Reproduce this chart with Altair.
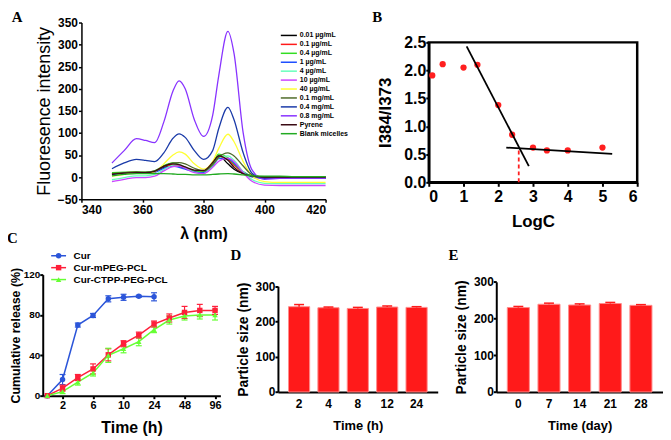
import altair as alt
import pandas as pd

FONT = "Liberation Sans"
SERIF = "Liberation Serif"
W, H = 660, 431

# ---------------- Panel A: fluorescence spectra ----------------
wavelength = [350, 354, 358, 361, 364, 367, 370, 372, 374, 377, 380, 383, 385, 388, 390, 393, 396, 400, 405, 410, 420]
conc_labels = ["0.01 µg/mL", "0.1 µg/mL", "0.4 µg/mL", "1 µg/mL", "4 µg/mL", "10 µg/mL",
               "40 µg/mL", "0.1 mg/mL", "0.4 mg/mL", "0.8 mg/mL", "Pyrene", "Blank micelles"]
conc_colors = ["#000000", "#ff1a1a", "#33dd22", "#1f4fff", "#66ffbb", "#cc44ff",
               "#ffff33", "#4f6b2a", "#1a3aa8", "#8833ff", "#3a0a14", "#22aa22"]
fl_001 = [7, 9, 10, 9, 12, 22, 28, 25, 20, 14, 14, 32, 48, 30, 18, 8, 3, 0, 0, 0, 0]
fl_01 = [8, 10, 11, 10, 13, 24, 28, 26, 21, 14, 12, 28, 44, 40, 27, 10, 2, 0, 0, 0, 0]
fl_04 = [10, 11, 12, 11, 14, 26, 32, 28, 22, 14, 12, 32, 52, 44, 30, 12, 3, 1, 1, 1, 1]
fl_1 = [5, 9, 10, 9, 11, 20, 25, 22, 18, 12, 10, 24, 42, 42, 32, 12, 0, -3, -3, -3, -3]
fl_4 = [-6, -1, 3, 3, 6, 17, 27, 28, 22, 11, 8, 26, 44, 48, 38, 12, -6, -14, -15, -15, -15]
fl_10 = [-10, -5, -1, -1, 2, 14, 24, 25, 20, 10, 8, 22, 36, 43, 35, 10, -10, -18, -19, -19, -19]
fl_40 = [2, 6, 10, 9, 12, 30, 50, 57, 52, 30, 18, 35, 65, 97, 80, 35, 2, -10, -12, -12, -12]
fl_01mg = [8, 10, 12, 11, 14, 24, 32, 33, 30, 20, 14, 28, 45, 55, 48, 25, 5, 0, 0, 0, 0]
fl_04mg = [19, 32, 40, 38, 35, 55, 88, 98, 90, 60, 40, 60, 110, 158, 130, 55, 8, -3, -3, -3, -3]
fl_08mg = [32, 60, 87, 83, 78, 125, 195, 218, 200, 130, 92, 140, 230, 330, 280, 100, 15, -5, -3, -3, -3]
fl_pyrene = [6, 9, 10, 10, 13, 25, 30, 28, 23, 16, 15, 33, 48, 38, 22, 8, 2, 0, 0, 0, 0]
fl_blank = [3, 6, 8, 8, 8, 8, 7, 6, 6, 5, 5, 6, 7, 8, 7, 5, 3, 2, 2, 1, 1]
fl_all = [fl_001, fl_01, fl_04, fl_1, fl_4, fl_10, fl_40, fl_01mg, fl_04mg, fl_08mg, fl_pyrene, fl_blank]

# ---------------- Panel B: I384/I373 vs LogC ----------------
logc = [0.1, 0.4, 1.0, 1.4, 2.0, 2.4, 3.0, 3.4, 4.0, 5.0]
ratio = [1.91, 2.11, 2.05, 2.10, 1.38, 0.85, 0.62, 0.57, 0.57, 0.62]
fit_seg = ["steep", "steep", "flat", "flat"]
fit_x = [1.09, 2.88, 2.23, 5.28]
fit_y = [2.43, 0.29, 0.62, 0.51]
cmc_x = [2.59, 2.59]
cmc_y = [0.0, 0.6]

# ---------------- Panel C: cumulative release ----------------
time_labels = ["0", "2", "4", "6", "8", "10", "12", "24", "36", "48", "72", "96"]
rel_series = ["Cur", "Cur-mPEG-PCL", "Cur-CTPP-PEG-PCL"]
rel_colors = ["#2b55d9", "#ff1f3a", "#66ff33"]
rel_shapes = ["circle", "square", "triangle-up"]
cur = [0, 16, 70, 79.5, 96, 97.5, 98.5, 98]
cur_err = [0, 5, 2, 2, 3, 3, 1, 4]
mpeg = [0, 7.5, 18, 26.5, 40.5, 51.5, 60, 71, 77, 82.5, 84.5, 84.5]
mpeg_err = [0, 3, 3, 5, 6, 3, 3, 3, 4, 6, 6, 4]
ctpp = [0, 4, 13.5, 22.5, 40, 46.5, 53.5, 65.5, 75, 79, 80, 80]
ctpp_err = [0, 2, 3, 3, 7, 4, 4, 3, 4, 4, 4, 5]

# ---------------- Panels D, E: particle size ----------------
d_times = ["2", "4", "8", "12", "24"]
d_size = [242, 239, 237, 241, 240]
d_err = [6, 2, 3, 3, 2]
e_days = ["0", "7", "14", "21", "28"]
e_size = [230, 239, 237, 241, 236]
e_err = [3, 3, 3, 3, 2]


def ax(orient, offset, **kw):
    base = dict(orient=orient, offset=offset, grid=False, domainColor="black", tickColor="black",
                labelColor="black", titleColor="black", labelFont=FONT, titleFont=FONT,
                labelFontWeight="bold", titleFontWeight="bold")
    base.update(kw)
    return alt.Axis(**base)


def sc(domain, rng, **kw):
    return alt.Scale(domain=domain, range=rng, nice=False, zero=False, **kw)


def letter(text, x, y, xs, ys, xtype="Q", dx=0):
    df = pd.DataFrame({"x": [x], "y": [y], "t": [text]})
    return alt.Chart(df).mark_text(font=SERIF, fontWeight="bold", fontSize=15, align="left",
                                   baseline="alphabetic", color="black", dx=dx).encode(
        x=alt.X(f"x:{xtype}", scale=xs, axis=None),
        y=alt.Y("y:Q", scale=ys, axis=None),
        text="t:N")


layers = []

# ---- A
xA = sc([340, 420], [74, 320])
yA = sc([-50, 350], [191, 13])
rowsA = []
for name, vals in zip(conc_labels, fl_all):
    for w, v in zip(wavelength, vals):
        rowsA.append({"wl": w, "val": v, "series": name})
dfA = pd.DataFrame(rowsA)
layers.append(alt.Chart(dfA).mark_line(strokeWidth=1.3, interpolate="monotone").encode(
    x=alt.X("wl:Q", scale=xA, axis=ax("bottom", 191 - H, values=[340, 360, 380, 400, 420], title="λ (nm)",
                                      labelFontSize=12, titleFontSize=16, tickSize=3, labelPadding=2,
                                      titlePadding=11, domainWidth=1.5, tickWidth=1.5)),
    y=alt.Y("val:Q", scale=yA, axis=ax("left", -74, values=list(range(-50, 351, 50)),
                                       title="Fluoresence intensity", titleFontWeight="normal",
                                       titleFontSize=18, labelFontSize=12, tickSize=3, labelPadding=1,
                                       titlePadding=4, domainWidth=1.5, tickWidth=1.5)),
    color=alt.Color("series:N", sort=conc_labels, scale=alt.Scale(domain=conc_labels, range=conc_colors),
                    legend=alt.Legend(title=None, orient="none", legendX=279, legendY=22,
                                      symbolType="M-2.7,0H2.7", symbolSize=36, symbolStrokeWidth=1.5,
                                      labelFont=FONT, labelFontWeight="bold", labelFontSize=7,
                                      labelColor="black", labelOffset=7, rowPadding=2))
))
layers.append(letter("A", 317.2, 352.2, xA, yA))

# ---- B
xB = sc([0, 6], [424, 634])
yB = sc([0, 2.5], [174, 33])
frame = pd.DataFrame({"x0": [0], "x1": [6], "y0": [0], "y1": [2.5]})
layers.append(alt.Chart(frame).mark_rect(fillOpacity=0, stroke="black", strokeWidth=2.5).encode(
    x=alt.X("x0:Q", scale=xB, axis=None), x2="x1", y=alt.Y("y0:Q", scale=yB, axis=None), y2="y1"))
dfB = pd.DataFrame({"logc": logc, "ratio": ratio})
layers.append(alt.Chart(dfB).mark_circle(size=40, color="#ff1f1f", opacity=1).encode(
    x=alt.X("logc:Q", scale=xB, axis=ax("bottom", 174 - H, values=[0, 1, 2, 3, 4, 5, 6], title="LogC",
                                        labelFontSize=16, titleFontSize=17, tickSize=4, tickWidth=2,
                                        domainWidth=2.5, labelPadding=2, titlePadding=10)),
    y=alt.Y("ratio:Q", scale=yB, axis=ax("left", -424, values=[0, 0.5, 1.0, 1.5, 2.0, 2.5], format=".1f",
                                         title="I384/I373", labelFontSize=16, titleFontSize=17, tickSize=3,
                                         tickWidth=2, domainWidth=2.5, labelPadding=0, titlePadding=9))))
dfFit = pd.DataFrame({"seg": fit_seg, "x": fit_x, "y": fit_y})
layers.append(alt.Chart(dfFit).mark_line(color="black", strokeWidth=1.8).encode(
    x=alt.X("x:Q", scale=xB, axis=None), y=alt.Y("y:Q", scale=yB, axis=None), detail="seg:N"))
dfCmc = pd.DataFrame({"x": cmc_x, "y": cmc_y})
layers.append(alt.Chart(dfCmc).mark_line(color="#ff2020", strokeWidth=1.8, strokeDash=[4, 3]).encode(
    x=alt.X("x:Q", scale=xB, axis=None), y=alt.Y("y:Q", scale=yB, axis=None)))
layers.append(letter("B", -1.63, 2.872, xB, yB))

# ---- C
xC = sc([-0.3, 11.35], [35, 214])
yC = sc([0, 120], [389, 267])
rowsC = []
for name, vals, errs in zip(rel_series, [cur, mpeg, ctpp], [cur_err, mpeg_err, ctpp_err]):
    for i, (v, e) in enumerate(zip(vals, errs)):
        rowsC.append({"idx": i, "val": v, "lo": v - e, "hi": v + e, "err": e, "series": name})
dfC = pd.DataFrame(rowsC)
dfCe = dfC[dfC["err"] > 0]
colC = alt.Scale(domain=rel_series, range=rel_colors)
label_expr = "[" + ",".join(f"'{t}'" for t in time_labels) + "][datum.value]"
legC_line = alt.Legend(title=None, orient="none", legendX=46, legendY=243, symbolType="M-2.5,0H2.5",
                       symbolSize=36, symbolStrokeWidth=1.5, labelFont=FONT, labelFontWeight="bold",
                       labelFontSize=10, labelColor="black", labelOffset=10, rowPadding=2)
legC_pt = alt.Legend(title=None, orient="none", legendX=46, legendY=243, symbolSize=30,
                     labelFont=FONT, labelFontWeight="bold", labelFontSize=10, labelOffset=10,
                     rowPadding=2, labelOpacity=0)
layers.append(alt.Chart(dfC).mark_line(strokeWidth=1.5).encode(
    x=alt.X("idx:Q", scale=xC, axis=ax("bottom", 389 - H, values=[1, 3, 5, 7, 9, 11], labelExpr=label_expr,
                                       title="Time (h)", labelFontSize=11, titleFontSize=16, tickSize=3,
                                       tickWidth=2, domainWidth=2, labelPadding=1, titlePadding=9)),
    y=alt.Y("val:Q", scale=yC, axis=ax("left", -35, values=[0, 40, 80, 120], title="Cumulative release (%)",
                                       labelFontSize=10, titleFontSize=12.5, tickSize=3, tickWidth=2,
                                       domainWidth=2, labelPadding=0, titlePadding=1)),
    color=alt.Color("series:N", sort=rel_series, scale=colC, legend=legC_line)))
layers.append(alt.Chart(dfCe).mark_rule(strokeWidth=1.2).encode(
    x=alt.X("idx:Q", scale=xC, axis=None), y=alt.Y("lo:Q", scale=yC, axis=None), y2="hi",
    color=alt.Color("series:N", scale=colC, legend=None)))
for fld in ["lo", "hi"]:
    layers.append(alt.Chart(dfCe).mark_tick(orient="horizontal", size=6, thickness=1.2, opacity=1).encode(
        x=alt.X("idx:Q", scale=xC, axis=None), y=alt.Y(f"{fld}:Q", scale=yC, axis=None),
        color=alt.Color("series:N", scale=colC, legend=None)))
layers.append(alt.Chart(dfC).mark_point(filled=True, size=30, opacity=1).encode(
    x=alt.X("idx:Q", scale=xC, axis=None), y=alt.Y("val:Q", scale=yC, axis=None),
    color=alt.Color("series:N", sort=rel_series, scale=colC, legend=legC_pt),
    shape=alt.Shape("series:N", sort=rel_series, scale=alt.Scale(domain=rel_series, range=rel_shapes),
                    legend=legC_pt)))
layers.append(letter("C", -2.64, 151.5, xC, yC))


# ---- D and E
def bar_panel(cats, vals, errs, xr, yr, xtitle, letter_text, dx, ly):
    xs = alt.Scale(domain=cats, range=xr, paddingInner=0.28, paddingOuter=0.36)
    ys = sc([0, 300], yr)
    df = pd.DataFrame({"t": cats, "v": vals, "hi": [a + b for a, b in zip(vals, errs)]})
    out = []
    out.append(alt.Chart(df).mark_bar(color="#ff1a1a", stroke="#ff8c8c", strokeWidth=1).encode(
        x=alt.X("t:N", sort=cats, scale=xs, axis=ax("bottom", yr[0] - H, title=xtitle, labelAngle=0,
                                                     labelFontSize=12, titleFontSize=13, ticks=False,
                                                     domainWidth=2, labelPadding=7, titlePadding=10)),
        y=alt.Y("v:Q", scale=ys, axis=ax("left", -xr[0], values=[0, 100, 200, 300], title="Particle size (nm)",
                                         labelFontSize=12, titleFontSize=14, tickSize=3, tickWidth=2,
                                         domainWidth=2, labelPadding=0, titlePadding=5))))
    out.append(alt.Chart(df).mark_rule(color="#ff1a1a", strokeWidth=1.5).encode(
        x=alt.X("t:N", sort=cats, scale=xs, axis=None), y=alt.Y("v:Q", scale=ys, axis=None), y2="hi"))
    out.append(alt.Chart(df).mark_tick(orient="horizontal", size=10, thickness=1.5, color="#ff1a1a",
                                       opacity=1).encode(
        x=alt.X("t:N", sort=cats, scale=xs, axis=None), y=alt.Y("hi:Q", scale=ys, axis=None)))
    out.append(letter(letter_text, cats[0], ly, xs, ys, xtype="N", dx=dx))
    return out


layers += bar_panel(d_times, d_size, d_err, [272, 433], [385.3, 278.7], "Time (h)", "D", -64, 375)
layers += bar_panel(e_days, e_size, e_err, [492, 660], [385.3, 274.3], "Time (day)", "E", -65, 360)

chart = alt.layer(*layers).resolve_scale(
    x="independent", y="independent", color="independent", shape="independent"
).properties(
    width=W, height=H, padding=0, autosize=alt.AutoSizeParams(type="none")
).configure_view(stroke=None)

chart.save("out.html", embed_options={"renderer": "svg", "actions": False})
